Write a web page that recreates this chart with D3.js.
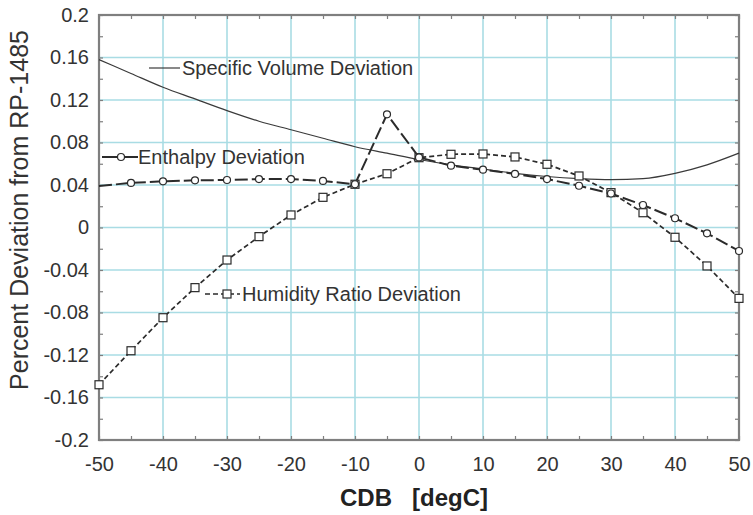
<!DOCTYPE html>
<html>
<head>
<meta charset="utf-8">
<script src="https://cdn.jsdelivr.net/npm/d3@7/dist/d3.min.js"></script>
<style>
  html, body { margin: 0; padding: 0; background: #fff; }
  svg { display: block; font-family: "Liberation Sans", Arial, sans-serif; }
</style>
</head>
<body>
<svg id="chart" width="753" height="515"></svg>
<script>
// Dry-bulb temperatures (degC) at which each deviation was evaluated
const cdb = [-50, -45, -40, -35, -30, -25, -20, -15, -10, -5, 0, 5, 10, 15, 20, 25, 30, 35, 40, 45, 50];

// Percent deviation from RP-1485
const specificVolume = [0.158, 0.145, 0.132, 0.121, 0.110, 0.100, 0.092, 0.084, 0.076, 0.070, 0.064,
                        0.059, 0.055, 0.051, 0.048, 0.046, 0.045, 0.046, 0.051, 0.059, 0.070];
const enthalpy = [0.039, 0.042, 0.0435, 0.0444, 0.0447, 0.0456, 0.0456, 0.0438, 0.0407, 0.1065, 0.066,
                  0.0582, 0.0544, 0.0504, 0.0456, 0.0393, 0.032, 0.0212, 0.0087, -0.0055, -0.0221];
const humidityRatio = [-0.148, -0.116, -0.0849, -0.0566, -0.0306, -0.0086, 0.0118, 0.0284, 0.0407, 0.0506, 0.0657,
                       0.0689, 0.0692, 0.0664, 0.0595, 0.0485, 0.0328, 0.0139, -0.0092, -0.0362, -0.0667];

const xTicks = [-50, -40, -30, -20, -10, 0, 10, 20, 30, 40, 50];
const yTicks = [-0.2, -0.16, -0.12, -0.08, -0.04, 0, 0.04, 0.08, 0.12, 0.16, 0.2];
const xMinor = d3.range(-50, 50.01, 5);
const yMinor = d3.range(-0.2, 0.2001, 0.02);

const svg = d3.select("#chart");
const plotL = 99, plotR = 739, plotT = 15, plotB = 440;

const x = d3.scaleLinear().domain([-50, 50]).range([plotL, plotR]);
const y = d3.scaleLinear().domain([-0.2, 0.2]).range([plotB, plotT]);

const gridColor = "#a9dce4";
const axisColor = "#7f7f7f";
const inkColor = "#2b2b2b";
const textColor = "#333";

// Grid
const grid = svg.append("g");
grid.selectAll("line.vx").data(xTicks.slice(1, -1)).join("line")
  .attr("x1", d => x(d)).attr("x2", d => x(d)).attr("y1", plotT).attr("y2", plotB)
  .attr("stroke", gridColor).attr("stroke-width", 1.6);
grid.selectAll("line.hy").data(yTicks.slice(1, -1)).join("line")
  .attr("y1", d => y(d)).attr("y2", d => y(d)).attr("x1", plotL).attr("x2", plotR)
  .attr("stroke", gridColor).attr("stroke-width", 1.6);

// Axes: inward ticks on all four sides
function styleAxis(g) {
  g.select(".domain").remove();
  g.selectAll(".tick line").attr("stroke", axisColor).attr("stroke-width", 1.2);
  g.selectAll(".tick text").attr("fill", textColor).attr("font-size", 20)
    .attr("font-family", "'Liberation Sans', Arial, sans-serif");
}
// plain hyphen-minus labels, e.g. "-0.16"
const fmtY = d => String(+d.toFixed(2));
const fmtX = d => String(d);

svg.append("g").attr("transform", `translate(0,${plotB})`)
  .call(d3.axisBottom(x).tickValues(xMinor).tickSize(-4).tickPadding(17)
    .tickFormat(d => xTicks.includes(d) ? fmtX(d) : ""))
  .call(styleAxis);
svg.append("g").attr("transform", `translate(0,${plotT})`)
  .call(d3.axisTop(x).tickValues(xMinor).tickSize(-4).tickFormat(""))
  .call(styleAxis);
svg.append("g").attr("transform", `translate(${plotL},0)`)
  .call(d3.axisLeft(y).tickValues(yMinor).tickSize(-4).tickPadding(10)
    .tickFormat(d => yTicks.some(t => Math.abs(t - d) < 1e-9) ? fmtY(d) : ""))
  .call(styleAxis);
svg.append("g").attr("transform", `translate(${plotR},0)`)
  .call(d3.axisRight(y).tickValues(yMinor).tickSize(-4).tickFormat(""))
  .call(styleAxis);

// Plot frame
svg.append("rect").attr("x", plotL).attr("y", plotT)
  .attr("width", plotR - plotL).attr("height", plotB - plotT)
  .attr("fill", "none").attr("stroke", axisColor).attr("stroke-width", 2.2);

// Series
const line = d3.line().x(d => x(d[0])).y(d => y(d[1]));
const smooth = d3.line().x(d => x(d[0])).y(d => y(d[1])).curve(d3.curveMonotoneX);
const pts = vals => cdb.map((c, i) => [c, vals[i]]);

svg.append("path").datum(pts(specificVolume)).attr("d", smooth)
  .attr("fill", "none").attr("stroke", "#3a3a3a").attr("stroke-width", 1.2);

svg.append("path").datum(pts(humidityRatio)).attr("d", line)
  .attr("fill", "none").attr("stroke", inkColor).attr("stroke-width", 1.7)
  .attr("stroke-dasharray", "5,3");

svg.append("path").datum(pts(enthalpy)).attr("d", line)
  .attr("fill", "none").attr("stroke", inkColor).attr("stroke-width", 2)
  .attr("stroke-dasharray", "13,4");

const sq = 8;
svg.append("g").selectAll("rect").data(pts(humidityRatio)).join("rect")
  .attr("x", d => x(d[0]) - sq / 2).attr("y", d => y(d[1]) - sq / 2)
  .attr("width", sq).attr("height", sq)
  .attr("fill", "#fff").attr("stroke", inkColor).attr("stroke-width", 1.2);

svg.append("g").selectAll("circle").data(pts(enthalpy).slice(1)).join("circle")
  .attr("cx", d => x(d[0])).attr("cy", d => y(d[1])).attr("r", 3.5)
  .attr("fill", "#fff").attr("stroke", inkColor).attr("stroke-width", 1.2);

// Series labels
const lab = svg.append("g").attr("font-size", 20).attr("fill", textColor);

lab.append("line").attr("x1", 149).attr("x2", 180).attr("y1", 68).attr("y2", 68)
  .attr("stroke", "#3a3a3a").attr("stroke-width", 1.2);
lab.append("text").attr("x", 182).attr("y", 75).text("Specific Volume Deviation");

lab.append("line").attr("x1", 102).attr("x2", 138).attr("y1", 157).attr("y2", 157)
  .attr("stroke", inkColor).attr("stroke-width", 2);
lab.append("circle").attr("cx", 121).attr("cy", 157).attr("r", 3.5)
  .attr("fill", "#fff").attr("stroke", inkColor).attr("stroke-width", 1.2);
lab.append("text").attr("x", 138).attr("y", 164).text("Enthalpy Deviation");

lab.append("line").attr("x1", 205).attr("x2", 240).attr("y1", 294).attr("y2", 294)
  .attr("stroke", inkColor).attr("stroke-width", 1.7).attr("stroke-dasharray", "5,3");
lab.append("rect").attr("x", 227 - sq / 2).attr("y", 294 - sq / 2).attr("width", sq).attr("height", sq)
  .attr("fill", "#fff").attr("stroke", inkColor).attr("stroke-width", 1.2);
lab.append("text").attr("x", 242).attr("y", 301).text("Humidity Ratio Deviation");

// Axis titles
svg.append("text").attr("x", 414).attr("y", 506).attr("text-anchor", "middle")
  .attr("font-size", 24).attr("font-weight", "bold").attr("fill", "#222")
  .style("white-space", "pre").text("CDB   [degC]");

svg.append("text").attr("transform", "translate(28,210) rotate(-90)")
  .attr("text-anchor", "middle").attr("font-size", 25).attr("fill", textColor)
  .text("Percent Deviation from RP-1485");
</script>
</body>
</html>
